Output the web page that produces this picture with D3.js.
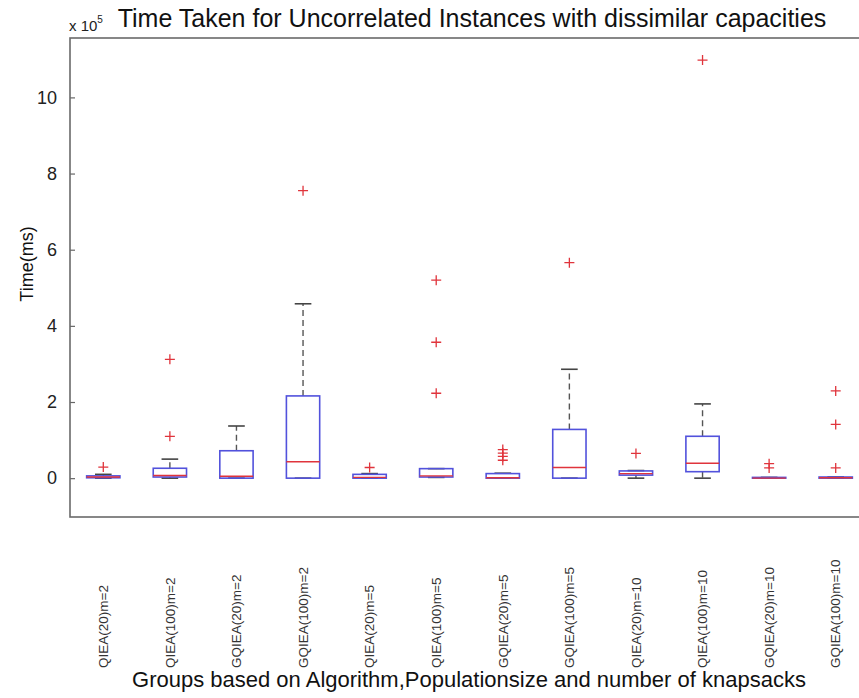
<!DOCTYPE html>
<html>
<head>
<meta charset="utf-8">
<script src="https://cdn.jsdelivr.net/npm/d3@7"></script>
<style>
  html, body { margin: 0; padding: 0; background: #fff; }
  svg { display: block; font-family: "Liberation Sans", Arial, sans-serif; }
</style>
</head>
<body>
<svg id="chart" width="859" height="698"></svg>
<script>
// Groups (algorithm, population size, number of knapsacks)
const categories = [
  "QIEA(20)m=2", "QIEA(100)m=2", "GQIEA(20)m=2", "GQIEA(100)m=2",
  "QIEA(20)m=5", "QIEA(100)m=5", "GQIEA(20)m=5", "GQIEA(100)m=5",
  "QIEA(20)m=10", "QIEA(100)m=10", "GQIEA(20)m=10", "GQIEA(100)m=10"
];

// Box statistics, time in units of 1e5 ms
const whiskerLow  = [0.00, 0.00, 0.00, 0.00, 0.00, 0.02, 0.00, 0.00, 0.00, 0.00, 0.00, 0.00];
const quartile1   = [0.01, 0.03, 0.00, 0.00, 0.00, 0.03, 0.00, 0.00, 0.08, 0.17, 0.00, 0.00];
const medians     = [0.03, 0.07, 0.05, 0.43, 0.02, 0.06, 0.01, 0.28, 0.12, 0.39, 0.00, 0.01];
const quartile3   = [0.06, 0.26, 0.72, 2.16, 0.10, 0.25, 0.12, 1.28, 0.19, 1.10, 0.02, 0.03];
const whiskerHigh = [0.10, 0.50, 1.37, 4.58, 0.12, 0.25, 0.13, 2.86, 0.20, 1.95, 0.02, 0.03];
const outliers = [
  [0.29],
  [1.10, 3.12],
  [],
  [7.55],
  [0.28],
  [2.23, 3.57, 5.20],
  [0.47, 0.57, 0.66, 0.75],
  [5.66],
  [0.65],
  [10.98],
  [0.27, 0.38],
  [0.27, 1.41, 2.29]
];

const yTicks = [0, 2, 4, 6, 8, 10];

const titleText = "Time Taken for Uncorrelated Instances with dissimilar capacities";
const xLabelText = "Groups based on Algorithm,Populationsize and number of knapsacks";
const yLabelText = "Time(ms)";

const boxes = categories.map((c, i) => ({
  name: c, lo: whiskerLow[i], q1: quartile1[i], med: medians[i],
  q3: quartile3[i], hi: whiskerHigh[i], out: outliers[i]
}));

const svg = d3.select("#chart");
const plot = { left: 70, right: 869, top: 38, bottom: 517 };

const x = d3.scaleBand().domain(categories).range([plot.left, plot.right]).padding(0);
const y = d3.scaleLinear().domain([-1.02, 11.56]).range([plot.bottom, plot.top]);

const boxBlue = "#5252dc";
const medRed = "#e0343c";
const bw = x.bandwidth() * 0.5;
const capW = bw * 0.5;

// Y axis with inward ticks
const yAxis = d3.axisLeft(y).tickValues(yTicks).tickSizeInner(-5).tickSizeOuter(0).tickPadding(13);
const gy = svg.append("g").attr("transform", `translate(${plot.left},0)`).call(yAxis);
gy.select(".domain").remove();
gy.selectAll(".tick line").attr("stroke", "#666").attr("stroke-width", 1.2);
gy.selectAll(".tick text").attr("fill", "#222").style("font-size", "18px");

// Frame
svg.append("rect")
  .attr("x", plot.left).attr("y", plot.top)
  .attr("width", plot.right - plot.left).attr("height", plot.bottom - plot.top)
  .attr("fill", "none").attr("stroke", "#6a6a6a").attr("stroke-width", 1.6);

const g = svg.append("g").selectAll("g.box").data(boxes).join("g").attr("class", "box");
const cx = d => x(d.name) + x.bandwidth() / 2;

// Whiskers (dashed)
g.append("line")
  .attr("x1", cx).attr("x2", cx)
  .attr("y1", d => y(d.q3)).attr("y2", d => y(d.hi))
  .attr("stroke", "#555").attr("stroke-width", 1.4).attr("stroke-dasharray", "6,4");
g.append("line")
  .attr("x1", cx).attr("x2", cx)
  .attr("y1", d => y(d.q1)).attr("y2", d => y(d.lo))
  .attr("stroke", "#555").attr("stroke-width", 1.4).attr("stroke-dasharray", "6,4");

// Whisker caps
g.append("line")
  .attr("x1", d => cx(d) - capW / 2).attr("x2", d => cx(d) + capW / 2)
  .attr("y1", d => y(d.hi)).attr("y2", d => y(d.hi))
  .attr("stroke", "#444").attr("stroke-width", 1.6);
g.append("line")
  .attr("x1", d => cx(d) - capW / 2).attr("x2", d => cx(d) + capW / 2)
  .attr("y1", d => y(d.lo)).attr("y2", d => y(d.lo))
  .attr("stroke", "#444").attr("stroke-width", 1.6);

// Boxes
g.append("rect")
  .attr("x", d => cx(d) - bw / 2).attr("width", bw)
  .attr("y", d => y(d.q3)).attr("height", d => Math.max(0.5, y(d.q1) - y(d.q3)))
  .attr("fill", "none").attr("stroke", boxBlue).attr("stroke-width", 1.6);

// Medians
g.append("line")
  .attr("x1", d => cx(d) - bw / 2).attr("x2", d => cx(d) + bw / 2)
  .attr("y1", d => y(d.med)).attr("y2", d => y(d.med))
  .attr("stroke", medRed).attr("stroke-width", 1.4);

// Outliers as red plus signs
const ps = 5;
g.each(function(d) {
  d3.select(this).selectAll("path.out").data(d.out).join("path")
    .attr("class", "out")
    .attr("d", v => {
      const px = cx(d), py = y(v);
      return `M${px - ps},${py}H${px + ps}M${px},${py - ps}V${py + ps}`;
    })
    .attr("stroke", medRed).attr("stroke-width", 1.3).attr("fill", "none");
});

// Category labels, rotated
svg.append("g").selectAll("text").data(categories).join("text")
  .attr("transform", d => `translate(${x(d) + x.bandwidth() / 2},668) rotate(-90)`)
  .attr("dy", "0.35em")
  .attr("text-anchor", "start")
  .style("font-size", "13.5px")
  .attr("fill", "#333")
  .text(d => d);

// Title
svg.append("text")
  .attr("x", 472).attr("y", 27)
  .attr("text-anchor", "middle")
  .style("font-size", "25px").attr("fill", "#111")
  .text(titleText);

// Exponent marker
const ex = svg.append("text").attr("x", 69).attr("y", 31).style("font-size", "15px").attr("fill", "#222");
ex.append("tspan").text("x 10");
ex.append("tspan").attr("dy", -8).style("font-size", "10px").text("5");

// Axis labels
svg.append("text")
  .attr("x", 469).attr("y", 687)
  .attr("text-anchor", "middle")
  .style("font-size", "22px").attr("fill", "#111")
  .text(xLabelText);

svg.append("text")
  .attr("transform", `translate(33,264) rotate(-90)`)
  .attr("text-anchor", "middle")
  .style("font-size", "18px").attr("fill", "#111")
  .text(yLabelText);
</script>
</body>
</html>
